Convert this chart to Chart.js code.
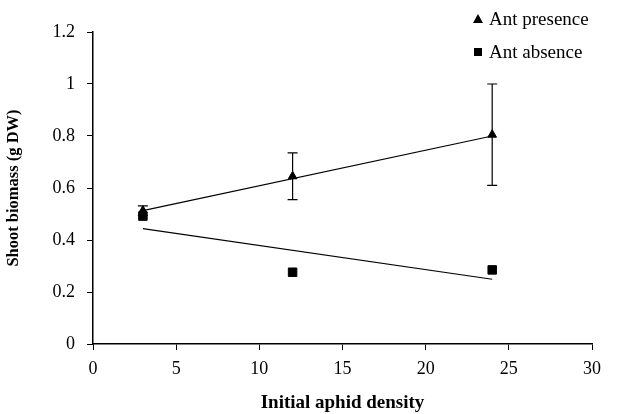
<!DOCTYPE html>
<html>
<head>
<meta charset="utf-8">
<script src="https://cdn.jsdelivr.net/npm/chart.js@4"></script>
<style>
  body { margin: 0; background: #fff; }
  #wrap { position: relative; width: 633px; height: 414px; }
  #legend { position: absolute; left: 473px; top: 2px; font: 19px "Liberation Serif", serif; color: #000; }
  .row { display: flex; align-items: center; height: 33px; }
  .tri { width: 0; height: 0; border-left: 5px solid transparent; border-right: 5px solid transparent; border-bottom: 9px solid #000; margin-right: 6px; }
  .sq { width: 8px; height: 8px; background: #000; margin: 0 7px 0 1px; }
</style>
</head>
<body>
<div id="wrap">
  <canvas id="chart" width="633" height="414"></canvas>
  <div id="legend">
    <div class="row"><span class="tri"></span>Ant presence</div>
    <div class="row"><span class="sq"></span>Ant absence</div>
  </div>
</div>
<script>
// data
const densities = [3, 12, 24];
const presence = [0.513, 0.645, 0.805];
const presenceErr = [0.018, 0.09, 0.195];
const absence = [0.492, 0.276, 0.285];
const trendX = [3, 24];
const presenceTrend = [0.513, 0.80];
const absenceTrend = [0.444, 0.249];
const xTicks = [0, 5, 10, 15, 20, 25, 30];
const yTicks = [0, 0.2, 0.4, 0.6, 0.8, 1, 1.2];

const toPoints = (xs, ys) => xs.map((x, i) => ({ x: x, y: ys[i] }));

// error bars for the ant presence series
const errorBars = {
    id: 'errorBars',
    afterDatasetsDraw(chart) {
        const ctx = chart.ctx;
        const xs = chart.scales.x, ys = chart.scales.y;
        ctx.save();
        ctx.strokeStyle = '#000';
        ctx.lineWidth = 1.2;
        densities.forEach((d, i) => {
            const px = xs.getPixelForValue(d);
            const top = ys.getPixelForValue(presence[i] + presenceErr[i]);
            const bot = ys.getPixelForValue(presence[i] - presenceErr[i]);
            ctx.beginPath();
            ctx.moveTo(px, top); ctx.lineTo(px, bot);
            ctx.moveTo(px - 5, top); ctx.lineTo(px + 5, top);
            ctx.moveTo(px - 5, bot); ctx.lineTo(px + 5, bot);
            ctx.stroke();
        });
        ctx.restore();
    }
};

const serif = '"Liberation Serif", "Times New Roman", serif';

new Chart(document.getElementById('chart'), {
    type: 'scatter',
    data: {
        datasets: [
            {
                label: 'Ant presence trend',
                type: 'line',
                data: toPoints(trendX, presenceTrend),
                borderColor: '#000',
                borderWidth: 1.2,
                pointRadius: 0,
                fill: false
            },
            {
                label: 'Ant absence trend',
                type: 'line',
                data: toPoints(trendX, absenceTrend),
                borderColor: '#000',
                borderWidth: 1.2,
                pointRadius: 0,
                fill: false
            },
            {
                label: 'Ant absence',
                data: toPoints(densities, absence),
                pointStyle: 'rect',
                pointRadius: 6,
                backgroundColor: '#000',
                borderColor: '#000'
            },
            {
                label: 'Ant presence',
                data: toPoints(densities, presence),
                pointStyle: 'triangle',
                pointRadius: 5,
                backgroundColor: '#000',
                borderColor: '#000'
            }
        ]
    },
    options: {
        responsive: false,
        animation: false,
        layout: { padding: { left: 0, right: 41, top: 32, bottom: 0 } },
        plugins: {
            legend: { display: false },
            tooltip: { enabled: false }
        },
        scales: {
            x: {
                type: 'linear',
                min: 0,
                max: 30,
                afterBuildTicks: axis => { axis.ticks = xTicks.map(v => ({ value: v })); },
                afterFit: axis => { axis.height = 70; },
                grid: { drawOnChartArea: false, tickLength: 6, color: '#000' },
                border: { color: '#000', width: 1.5 },
                ticks: { color: '#000', padding: 8, font: { family: serif, size: 18 } },
                title: {
                    display: true,
                    text: 'Initial aphid density',
                    color: '#000',
                    padding: { top: 16, bottom: 0 },
                    font: { family: serif, size: 19, weight: 'bold' }
                }
            },
            y: {
                min: 0,
                max: 1.2,
                afterBuildTicks: axis => { axis.ticks = yTicks.map(v => ({ value: v })); },
                afterFit: axis => { axis.width = 93; },
                grid: { drawOnChartArea: false, tickLength: 6, color: '#000' },
                border: { color: '#000', width: 1.5 },
                ticks: {
                    color: '#000',
                    padding: 12,
                    font: { family: serif, size: 18 },
                    callback: v => String(Math.round(v * 10) / 10)
                },
                title: {
                    display: true,
                    text: 'Shoot biomass (g DW)',
                    color: '#000',
                    font: { family: serif, size: 16.5, weight: 'bold' }
                }
            }
        }
    },
    plugins: [errorBars]
});
</script>
</body>
</html>
